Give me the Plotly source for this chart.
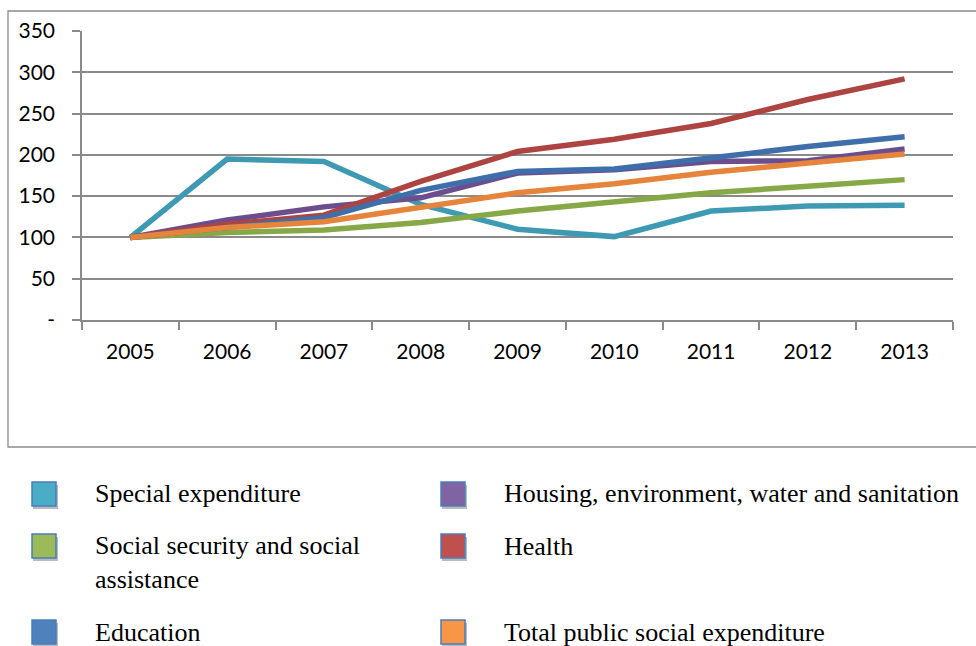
import plotly.graph_objects as go

# ---- data -------------------------------------------------------------
years = ["2005", "2006", "2007", "2008", "2009", "2010", "2011", "2012", "2013"]

special_expenditure = [100, 195, 192, 140, 110, 101, 132, 138, 139]
housing_environment = [100, 121, 137, 148, 178, 182, 192, 193, 207]
social_security = [100, 106, 109, 118, 132, 143, 154, 162, 170]
health = [100, 116, 127, 168, 204, 219, 238, 267, 292]
education = [100, 112, 124, 157, 180, 183, 197, 210, 222]
total_public = [100, 112, 119, 137, 154, 165, 179, 190, 201]

y_tick_values = [0, 50, 100, 150, 200, 250, 300, 350]
y_tick_labels = ["-", "50", "100", "150", "200", "250", "300", "350"]

series_names = [
    "Special expenditure",
    "Housing, environment, water and sanitation",
    "Social security and social<br>assistance",
    "Health",
    "Education",
    "Total public social expenditure",
]
series_values = [special_expenditure, housing_environment, social_security,
                 health, education, total_public]
line_colors = ["#3E9AB3", "#6C4E8E", "#86A847", "#AE4441", "#3F6FAB", "#E5843A"]
swatch_colors = ["#4BACC6", "#8064A2", "#9BBB59", "#C0504D", "#4F81BD", "#F79646"]

# ---- geometry ---------------------------------------------------------
W, H = 976, 646
ML, MR, MT, MB = 82, 23, 31, 326
PW, PH = W - ML - MR, H - MT - MB


def fx(px):
    return (px - ML) / PW


def fy(py):
    return (H - MB - py) / PH


fig = go.Figure()
for name, vals, col in zip(series_names, series_values, line_colors):
    fig.add_trace(go.Scatter(
        x=years, y=vals, mode="lines", name=name.replace("<br>", " "),
        line=dict(color=col, width=5.5), showlegend=False,
    ))

grey = "#8A8A8A"
tick_font = dict(family="Lato", size=21, color="#000000")

fig.update_xaxes(
    type="category", range=[-0.5, 8.5], showgrid=False, zeroline=False,
    showline=True, linecolor=grey, linewidth=1.5, automargin=False,
    ticks="outside", tickson="boundaries", ticklen=8, tickcolor=grey, tickwidth=1.5,
    tickfont=tick_font, ticklabelstandoff=12,
)
fig.update_yaxes(
    range=[0, 350], tickvals=y_tick_values, ticktext=y_tick_labels,
    showgrid=True, gridcolor=grey, gridwidth=1.5, zeroline=False,
    showline=True, linecolor=grey, linewidth=1.5, automargin=False,
    ticks="outside", ticklen=8, tickcolor=grey, tickwidth=1.5,
    tickfont=tick_font, ticklabelstandoff=13,
)

shapes = []
# chart frame
shapes.append(dict(type="rect", xref="paper", yref="paper", layer="below",
                   x0=fx(8), x1=fx(990), y0=fy(11), y1=fy(447),
                   line=dict(color=grey, width=1.3), fillcolor="rgba(0,0,0,0)"))

# legend: two columns, three rows
col_marker_x = [32, 441]
col_text_x = [93, 502]
row_center_y = [494, 546, 632]
entry_pos = [(0, 0), (1, 0), (0, 1), (1, 1), (0, 2), (1, 2)]

annotations = []
for (c, r), name, sw in zip(entry_pos, series_names, swatch_colors):
    mx, my = col_marker_x[c], row_center_y[r]
    # soft shadow beneath the swatch
    shapes.append(dict(type="rect", xref="paper", yref="paper",
                       x0=fx(mx + 1), x1=fx(mx + 26), y0=fy(my - 9), y1=fy(my + 15),
                       line=dict(width=0), fillcolor="rgba(60,60,60,0.35)"))
    shapes.append(dict(type="rect", xref="paper", yref="paper",
                       x0=fx(mx), x1=fx(mx + 24), y0=fy(my - 12), y1=fy(my + 12),
                       line=dict(color="#4A7EBB", width=1.5), fillcolor=sw))
    ty = my
    yanchor = "middle"
    if "<br>" in name:
        ty = my - 17
        yanchor = "top"
    annotations.append(dict(
        text=name, xref="paper", yref="paper", x=fx(col_text_x[c]), y=fy(ty),
        xanchor="left", yanchor=yanchor, align="left", showarrow=False,
        font=dict(family="Liberation Serif", size=26, color="#000000"),
    ))

fig.update_layout(
    width=W, height=H,
    margin=dict(l=ML, r=MR, t=MT, b=MB, autoexpand=False),
    paper_bgcolor="#FFFFFF", plot_bgcolor="#FFFFFF",
    shapes=shapes, annotations=annotations, showlegend=False,
)

fig.write_html("out.html")
